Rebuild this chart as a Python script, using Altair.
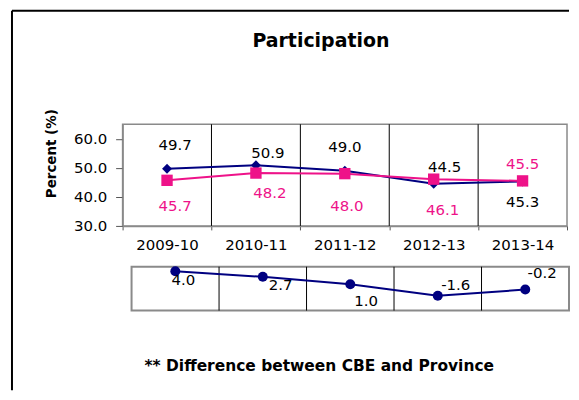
import altair as alt
import pandas as pd

# ---------------- data ----------------
years = ["2009-10", "2010-11", "2011-12", "2012-13", "2013-14"]
cbe = [49.7, 50.9, 49.0, 44.5, 45.3]
province = [45.7, 48.2, 48.0, 46.1, 45.5]
difference = [4.0, 2.7, 1.0, -1.6, -0.2]
y_ticks = [30, 40, 50, 60]

title_text = "Participation"
y_title = "Percent (%)"
footnote_text = "** Difference between CBE and Province"

# ---------------- styles ----------------
FONT = "DejaVu Sans"
NAVY = "#000080"
PINK = "#EE1289"
BORDER = "#8a8a8a"

# label offsets (dx, dy) in pixels, one per year
cbe_label_offsets = [(8, -24), (12, -12), (0, -24), (11, -17), (0, 21)]
prov_label_offsets = [(8, 26), (14, 20), (2, 32), (9, 31), (0, -17)]
diff_label_offsets = [(8, 9), (18, 8), (16, 17), (18, -11), (17, -17)]

main_df = pd.DataFrame({"year": years, "CBE": cbe, "Province": province})
diff_df = pd.DataFrame({"year": years, "diff": difference})
one = pd.DataFrame({"t": [0]})

band = alt.Scale(type="band", domain=years, paddingInner=0, paddingOuter=0)

x_axis = alt.Axis(
    title=None, grid=False, tickBand="extent", labelAngle=0,
    labelAlign="center", labelBaseline="top", labelOverlap=False,
    labelFont=FONT, labelFontSize=15, labelColor="black",
    labelPadding=8, tickSize=4, tickColor="#555555",
    domainColor=BORDER, domainWidth=1.5,
)
y_axis = alt.Axis(
    values=y_ticks, format=".1f", grid=False, labelOverlap=False,
    title=y_title, titleFont=FONT, titleFontSize=13.5,
    titleFontWeight="bold", titleColor="black",
    titleAngle=270, titleX=-67, titleY=29,
    titleAlign="center", titleBaseline="alphabetic",
    labelFont=FONT, labelFontSize=15, labelColor="black",
    labelAlign="right", labelBaseline="middle",
    labelPadding=9, tickSize=7, tickColor="#555555",
    domainColor=BORDER, domainWidth=1.5,
)
y_scale = alt.Scale(domain=[30, 65], nice=False, zero=False)


def x_main(band_pos=None):
    if band_pos is None:
        return alt.X("year:N", sort=years, scale=band, axis=x_axis)
    return alt.X("year:N", sort=years, scale=band, axis=x_axis, bandPosition=band_pos)


def y_main(field):
    return alt.Y(f"{field}:Q", scale=y_scale, axis=y_axis)


main_grid = (
    alt.Chart(main_df)
    .transform_filter(alt.datum.year != years[0])
    .mark_rule(color="black", strokeWidth=1)
    .encode(x=x_main(0))
)

cbe_line = alt.Chart(main_df).mark_line(color=NAVY, strokeWidth=2).encode(
    x=x_main(), y=y_main("CBE")
)
cbe_pts = alt.Chart(main_df).mark_point(
    shape="diamond", filled=True, color=NAVY, size=100, opacity=1
).encode(x=x_main(), y=y_main("CBE"))

prov_line = alt.Chart(main_df).mark_line(color=PINK, strokeWidth=2).encode(
    x=x_main(), y=y_main("Province")
)
prov_pts = alt.Chart(main_df).mark_point(
    shape="square", filled=True, color=PINK, size=130, opacity=1
).encode(x=x_main(), y=y_main("Province"))


def labels(df, field, offsets, color):
    out = []
    for yr, (dx, dy) in zip(years, offsets):
        out.append(
            alt.Chart(df)
            .transform_filter(alt.datum.year == yr)
            .transform_calculate(
                lbl=f"(datum['{field}'] < 0 ? '-' : '') + format(abs(datum['{field}']), '.1f')"
            )
            .mark_text(
                font=FONT, fontSize=15, color=color, dx=dx, dy=dy,
                align="center", baseline="middle",
            )
            .encode(x=x_main(), y=y_main(field), text="lbl:N")
        )
    return out


cbe_labels = labels(main_df, "CBE", cbe_label_offsets, "black")
prov_labels = labels(main_df, "Province", prov_label_offsets, PINK)

# outer frame (top and left edges) and chart title
frame_left = alt.Chart(one).mark_rule(color="black", strokeWidth=2).encode(
    x=alt.value(-111), y=alt.value(-114), y2=alt.value(267)
)
frame_top = alt.Chart(one).mark_rule(color="black", strokeWidth=2).encode(
    x=alt.value(-111), x2=alt.value(448), y=alt.value(-114)
)
title_mark = alt.Chart(pd.DataFrame({"t": [title_text]})).mark_text(
    font=FONT, fontSize=19, fontWeight="bold", color="black",
    align="center", baseline="alphabetic",
).encode(text="t:N", x=alt.value(199), y=alt.value(-78))

main = alt.layer(
    main_grid, cbe_line, cbe_pts, prov_line, prov_pts,
    *cbe_labels, *prov_labels, frame_left, frame_top, title_mark,
).properties(
    width=446, height=102,
    view=alt.ViewBackground(stroke=BORDER, strokeWidth=1.5),
)

# ---------------- difference panel ----------------
x_diff = alt.X("year:N", sort=years, scale=band, axis=None)
y_diff = alt.Y("diff:Q", scale=alt.Scale(domain=[-5, 5], nice=False, zero=False), axis=None)

diff_grid = (
    alt.Chart(diff_df)
    .transform_filter(alt.datum.year != years[0])
    .mark_rule(color="black", strokeWidth=1)
    .encode(x=alt.X("year:N", sort=years, scale=band, bandPosition=0, axis=None))
)
diff_line = alt.Chart(diff_df).mark_line(color=NAVY, strokeWidth=2).encode(x=x_diff, y=y_diff)
diff_pts = alt.Chart(diff_df).mark_circle(color=NAVY, size=100, opacity=1).encode(x=x_diff, y=y_diff)

diff_labels = []
for yr, (dx, dy) in zip(years, diff_label_offsets):
    diff_labels.append(
        alt.Chart(diff_df)
        .transform_filter(alt.datum.year == yr)
        .transform_calculate(lbl="(datum.diff < 0 ? '-' : '') + format(abs(datum.diff), '.1f')")
        .mark_text(font=FONT, fontSize=15, color="black", dx=dx, dy=dy,
                   align="center", baseline="middle")
        .encode(x=x_diff, y=y_diff, text="lbl:N")
    )

footnote = alt.Chart(pd.DataFrame({"t": [footnote_text]})).mark_text(
    font=FONT, fontSize=15.5, fontWeight="bold", color="black",
    align="left", baseline="alphabetic",
).encode(text="t:N", x=alt.value(13), y=alt.value(105))

diff = alt.layer(diff_grid, diff_line, diff_pts, *diff_labels, footnote).properties(
    width=439, height=44,
    view=alt.ViewBackground(stroke=BORDER, strokeWidth=2),
)

spacer = alt.Chart(one).mark_text().encode(text=alt.value("")).properties(
    width=9, height=44, view=alt.ViewBackground(stroke=None)
)

bottom = alt.hconcat(spacer, diff, spacing=0, bounds="flush")

chart = alt.vconcat(main, bottom, spacing=41, bounds="flush").properties(
    padding={"left": 2, "top": 0, "right": 0, "bottom": 0},
    background="white",
)

chart.save("out.html", embed_options={"renderer": "svg", "actions": False})
